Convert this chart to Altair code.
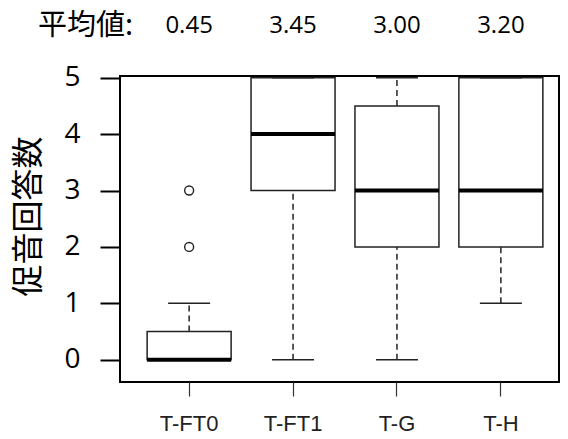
import altair as alt
import pandas as pd

categories = ["T-FT0", "T-FT1", "T-G", "T-H"]
means = [0.45, 3.45, 3.00, 3.20]
lower = [0, 0, 0, 1]
q1 = [0, 3, 2, 2]
median = [0, 4, 3, 3]
q3 = [0.5, 5, 4.5, 5]
upper = [1, 5, 5, 5]
outlier_cat = ["T-FT0", "T-FT0"]
outlier_val = [2, 3]
mean_label = "平均値:"
y_title = "促音回答数"
y_ticks = [0, 1, 2, 3, 4, 5]

df = pd.DataFrame({"cat": categories, "mean": means, "lower": lower, "q1": q1,
                   "median": median, "q3": q3, "upper": upper})
out = pd.DataFrame({"cat": outlier_cat, "val": outlier_val})
lab = pd.DataFrame({"label": [mean_label]})

xscale = alt.Scale(domain=categories, range=[0, 450], paddingInner=0.1915, paddingOuter=0.261)
yscale = alt.Scale(domain=[-0.395, 5.03], nice=False, zero=False)

X = alt.X("cat:N", scale=xscale, sort=categories,
          axis=alt.Axis(title=None, labelAngle=0, domain=False, tickSize=14, tickWidth=1.2,
                        tickColor="#333", labelFont="Liberation Sans", labelFontSize=22,
                        labelPadding=17, labelColor="#222", grid=False))
Y = alt.Y("lower:Q", scale=yscale,
          axis=alt.Axis(values=y_ticks, format="d", title=y_title, domain=False, grid=False,
                        tickSize=20, tickWidth=2, tickColor="black", labelFont="Open Sans",
                        labelFontSize=28, labelColor="black", labelPadding=20,
                        titleFont="Noto Sans CJK JP", titleFontSize=32,
                        titleFontWeight="normal", titleColor="black", titleAngle=270,
                        titleX=-92, titleY=140, titleAlign="center", titleBaseline="middle"))

base = alt.Chart(df)

w_low = base.mark_rule(color="#222", strokeWidth=1.5, strokeDash=[6, 4]).encode(
    x=X, y=Y, y2="q1:Q")
w_up = base.mark_rule(color="#222", strokeWidth=1.5, strokeDash=[6, 4]).encode(
    x=X, y="q3:Q", y2="upper:Q")
box = base.mark_bar(fill="white", stroke="#222", strokeWidth=1.5, size=84, opacity=1).encode(
    x=X, y="q1:Q", y2="q3:Q")
cap_low = base.mark_tick(color="#222", size=42, thickness=1.5, opacity=1).encode(
    x=X, y="lower:Q")
cap_up = base.mark_tick(color="#222", size=42, thickness=1.5, opacity=1).encode(
    x=X, y="upper:Q")
med = base.mark_tick(color="black", size=84, thickness=4, opacity=1).encode(
    x=X, y="median:Q")
pts = alt.Chart(out).mark_point(shape="circle", filled=False, color="#222", size=80,
                                strokeWidth=1.4, opacity=1).encode(x=X, y="val:Q")
mtext = base.mark_text(font="Open Sans", fontSize=24, color="black", baseline="middle").encode(
    x=X, y=alt.value(-50), text=alt.Text("mean:Q", format=".2f"))
ltext = alt.Chart(lab).mark_text(font="Noto Sans CJK JP", fontSize=29, color="black",
                                  align="left", baseline="middle").encode(
    x=alt.value(-82), y=alt.value(-50), text="label:N")

chart = alt.layer(w_low, w_up, box, cap_low, cap_up, med, pts, mtext, ltext).properties(
    width=439, height=306,
    autosize=alt.AutoSizeParams(type="none"),
    padding={"left": 112, "top": 68, "right": 1, "bottom": 57},
).configure_view(stroke="black", strokeWidth=2)

chart.save("out.html", embed_options={"renderer": "svg", "actions": False})
